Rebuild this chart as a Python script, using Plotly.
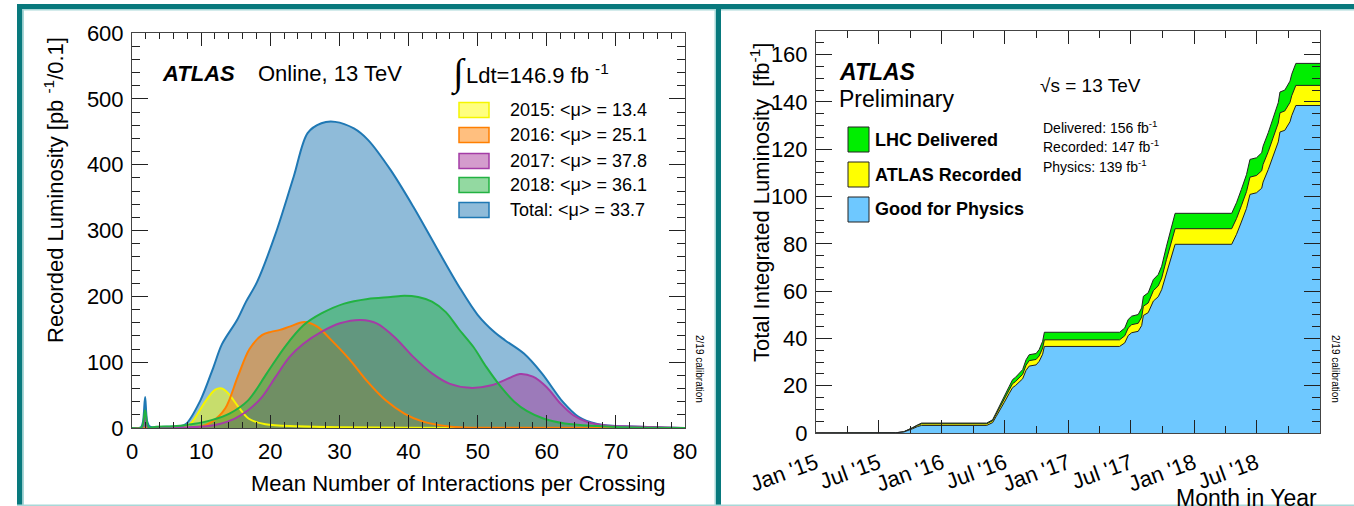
import plotly.graph_objects as go

W, H = 1354, 506
F = "Liberation Sans, Arial, sans-serif"


def px(x):
    return x / W


def py(y):
    return 1 - y / H


# ---------------- Left panel data: pile-up distributions ----------------
mu_total = [0, 1.3, 1.6, 1.9, 2.2, 2.6, 5, 7.0, 7.8, 9.9, 11.8, 13.0, 15.2, 16.5, 18.1, 20.8, 23.4, 25.4,
            27.4, 29.4, 32.1, 34.1, 37.4, 40.7, 44.0, 47.3, 50.0, 52.5, 54.0, 56.7, 59.3, 62.3, 64.6,
            67.3, 69.9, 75.2, 78, 80]
lumi_total = [0, 1, 10, 47, 10, 2, 2, 3, 6, 42, 93, 127, 164, 192, 222, 296, 382, 448,
              463, 465, 455, 438, 392, 336, 275, 215, 172, 145, 133, 113, 83, 40, 17,
              6, 3, 1.5, 0.3, 0]

mu_2015 = [0, 7.5, 8.6, 10.6, 12.0, 13.0, 13.9, 15.4, 16.9, 19.3, 24.1, 30, 40, 50, 80]
lumi_2015 = [0, 0.5, 8, 40, 58, 60, 53, 32, 14, 5.6, 2.5, 1, 0.5, 0, 0]

mu_2016 = [0, 8, 9.5, 11.5, 13.5, 15.3, 17.0, 18.8, 20.1, 21.4, 22.8, 24.9, 26.8, 28.7, 31.4, 34.1,
           36.7, 39.4, 42.0, 44.7, 47.3, 50, 80]
lumi_2016 = [0, 0, 1, 9, 30, 78, 120, 141, 146, 149, 154, 161, 154, 135, 105, 70,
             42, 22, 10, 4, 1.2, 0.3, 0]

mu_2017 = [0, 1.5, 1.9, 2.3, 4, 8, 10.8, 12.8, 14.8, 16.8, 18.8, 20.8, 22.8, 24.8, 27.4, 30.1, 33.1,
           35.4, 38.0, 40.7, 43.4, 46.0, 48.9, 52.0, 54.6, 56.1, 58.0, 60.0, 62.0, 63.9, 65.9, 68.6,
           71.2, 75.2, 80]
lumi_2017 = [0, 1, 21, 1, 1, 1, 2.5, 6.5, 14, 27, 47, 78, 108, 128, 146, 159, 164,
             159, 138, 108, 83, 67, 61, 65, 76, 82, 78, 62, 37, 19, 9, 4,
             2.5, 1.5, 0]

mu_2018 = [0, 1.4, 1.9, 2.4, 3.5, 6, 8.8, 11.5, 14.1, 16.8, 19.5, 22.1, 24.8, 27.4, 30.7, 34.1, 37.4,
           39.4, 41.4, 43.4, 45.4, 47.3, 49.4, 51.3, 53.4, 55.3, 57.1, 59.6, 62.6, 67.3, 70, 74, 80]
lumi_2018 = [0, 1, 27, 1, 2, 2.5, 6, 12, 22, 42, 83, 123, 156, 174, 189, 196, 199,
             201, 199, 192, 176, 150, 123, 92, 62, 40, 26, 14, 7, 3, 1.5, 0.5, 0]

legend_labels = ["2015: &lt;μ&gt; = 13.4", "2016: &lt;μ&gt; = 25.1", "2017: &lt;μ&gt; = 37.8",
                 "2018: &lt;μ&gt; = 36.1", "Total: &lt;μ&gt; = 33.7"]

# ---------------- Right panel data: cumulative luminosity ----------------
dates = ["2015-01-01", "2015-06-01", "2015-08-20", "2015-09-12", "2015-09-25", "2015-10-08",
         "2015-10-22", "2015-11-03",
         "2016-05-10", "2016-05-27", "2016-06-06", "2016-06-15", "2016-06-30", "2016-07-14",
         "2016-07-24", "2016-08-01", "2016-08-22", "2016-09-01", "2016-09-10", "2016-09-30",
         "2016-10-09", "2016-10-19", "2016-10-24",
         "2017-05-30", "2017-06-14", "2017-06-24", "2017-07-04", "2017-07-23", "2017-08-02",
         "2017-08-07", "2017-08-21", "2017-09-05", "2017-09-19", "2017-09-29", "2017-10-13",
         "2017-10-28", "2017-11-07",
         "2018-04-20", "2018-05-04", "2018-05-18", "2018-06-02", "2018-06-12", "2018-07-01",
         "2018-07-16", "2018-07-20", "2018-08-04", "2018-08-18", "2018-09-02", "2018-09-07",
         "2018-09-21", "2018-10-06", "2018-10-11", "2018-10-23", "2019-01-01"]
delivered = [0, 0, 0.1, 0.5, 1.3, 2.3, 3.4, 4.2,
             4.2, 5.6, 8.5, 11.3, 15.5, 19.7, 22.6, 23.5, 26.8, 31.0, 33.1, 33.6, 35.3, 38.8, 42.6,
             42.6, 44.4, 48.0, 49.4, 50.1, 52.9, 57.8, 59.3, 64.9, 67.0, 70.5, 79.0, 87.4, 92.9,
             92.9, 97.4, 103.0, 109.3, 115.7, 116.4, 118.5, 121.3, 127.0, 133.3, 139.7, 144.2,
             145.0, 148.8, 151.7, 156.3, 156.3]
recorded = [0, 0, 0.1, 0.5, 1.2, 2.1, 3.2, 3.9,
            3.9, 5.2, 7.9, 10.5, 14.3, 18.2, 20.9, 21.7, 24.8, 28.7, 30.6, 31.1, 32.6, 35.9, 39.4,
            39.4, 41.1, 44.4, 45.8, 46.4, 49.0, 53.6, 55.0, 60.2, 62.2, 65.5, 73.4, 81.2, 86.4,
            86.4, 90.7, 96.1, 102.1, 108.2, 108.9, 110.9, 113.6, 119.0, 125.0, 131.1, 135.4,
            136.2, 139.8, 142.6, 147.0, 147.0]
physics = [0, 0, 0.1, 0.4, 1.0, 1.8, 2.7, 3.2,
           3.2, 4.4, 6.9, 9.4, 13.0, 16.7, 19.2, 20.0, 22.9, 26.5, 28.3, 28.8, 30.3, 33.3, 36.6,
           36.6, 38.1, 41.2, 42.4, 43.0, 45.4, 49.7, 50.9, 55.8, 57.6, 60.6, 67.9, 75.1, 79.8,
           79.8, 84.0, 89.2, 95.0, 100.9, 101.6, 103.5, 106.1, 111.4, 117.2, 123.1, 127.3,
           128.0, 131.6, 134.2, 138.5, 138.5]

month_ticks = ["2015-01-01", "2015-07-01", "2016-01-01", "2016-07-01", "2017-01-01",
               "2017-07-01", "2018-01-01", "2018-07-01"]
month_labels = ["Jan '15", "Jul '15", "Jan '16", "Jul '16", "Jan '17", "Jul '17", "Jan '18", "Jul '18"]
quarter_ticks = ["2015-04-01", "2015-10-01", "2016-04-01", "2016-10-01", "2017-04-01",
                 "2017-10-01", "2018-04-01", "2018-10-01"]

right_labels = ["LHC Delivered", "ATLAS Recorded", "Good for Physics"]

# ---------------- styles ----------------
left_series = [
    (mu_total, lumi_total, "#1f78b4", "rgba(31,120,180,0.5)"),
    (mu_2015, lumi_2015, "#f5f500", "rgba(255,255,0,0.5)"),
    (mu_2016, lumi_2016, "#ff7f00", "rgba(255,127,0,0.5)"),
    (mu_2017, lumi_2017, "#a43ca6", "rgba(169,58,155,0.5)"),
    (mu_2018, lumi_2018, "#22b242", "rgba(39,180,68,0.5)"),
]
green, yellow, blue = "#00ee00", "#ffff00", "#6ec8ff"

fig = go.Figure()
# semi-transparent fills first, then outlines on top (as in the reference)
for xs, ys, lc, fc in left_series:
    fig.add_trace(go.Scatter(x=xs, y=ys, mode="lines", fill="tozeroy", fillcolor=fc,
                             line=dict(color=lc, width=0, shape="spline", smoothing=0.9),
                             xaxis="x", yaxis="y", showlegend=False, hoverinfo="skip"))
for xs, ys, lc, fc in left_series:
    fig.add_trace(go.Scatter(x=xs, y=ys, mode="lines",
                             line=dict(color=lc, width=2, shape="spline", smoothing=0.9),
                             xaxis="x", yaxis="y", showlegend=False, hoverinfo="skip"))

for ys, c in [(delivered, green), (recorded, yellow), (physics, blue)]:
    fig.add_trace(go.Scatter(x=dates, y=ys, mode="lines", fill="tozeroy", fillcolor=c,
                             line=dict(color="#222222", width=1),
                             xaxis="x2", yaxis="y2", showlegend=False, hoverinfo="skip"))


def axis(domain, anchor, rng, ticklen, minorlen, **kw):
    d = dict(domain=domain, anchor=anchor, range=rng, showline=True, linecolor="#444444",
             linewidth=1, mirror="allticks", ticks="inside", ticklen=ticklen, tickwidth=1,
             tickcolor="#222222", showgrid=False, zeroline=False, automargin=False,
             tickfont=dict(family=F, size=22, color="black"))
    d.update(kw)
    d.setdefault("minor", {})
    d["minor"].update(dict(ticks="inside", ticklen=minorlen, tickcolor="#222222", tickwidth=1,
                           showgrid=False))
    return d


fig.update_layout(
    width=W, height=H, margin=dict(l=0, r=0, t=0, b=0, pad=0, autoexpand=False),
    paper_bgcolor="white", plot_bgcolor="white",
    xaxis=axis([px(132), px(685)], "y", [0, 80], 13, 6, tickmode="linear", tick0=0, dtick=10,
               minor=dict(dtick=2), ticklabelstandoff=4),
    yaxis=axis([py(428), py(33)], "x", [0, 600], 16, 8, tickmode="linear", tick0=0, dtick=100,
               minor=dict(dtick=20), ticklabelstandoff=3),
    xaxis2=axis([px(816), px(1320)], "y2", ["2015-01-01", "2019-01-01"], 13, 7, type="date",
                tickmode="array", tickvals=month_ticks, ticktext=month_labels, tickangle=-20,
                minor=dict(tickmode="array", tickvals=quarter_ticks), ticklabelstandoff=8,
                tickfont=dict(family=F, size=22, color="black")),
    yaxis2=axis([py(433), py(31)], "x2", [0, 170], 16, 8, tickmode="linear", tick0=0, dtick=20,
                minor=dict(dtick=5), ticklabelstandoff=3),
)

ann = []


def text(x, y, s, size, anchor="left", family=F, **kw):
    d = dict(x=px(x), y=py(y), xref="paper", yref="paper", text=s, showarrow=False,
             xanchor=anchor, yanchor="middle", font=dict(family=family, size=size, color="black"))
    d.update(kw)
    ann.append(d)


# left panel texts
text(54, 190, "Recorded Luminosity [pb <sup>-1</sup>/0.1]", 22, anchor="center", textangle=-90)
text(668, 483, "Mean Number of Interactions per Crossing", 22, anchor="right")
text(160, 73, "<b><i>ATLAS</i></b>", 22)
text(256, 73, "Online, 13 TeV", 22)
text(449, 73, "∫", 38, family="Liberation Serif, DejaVu Serif, serif")
text(464, 74, "Ldt=146.9 fb <sup>-1</sup>", 22)
row_y = [110, 135, 161, 185, 210]
legend_styles = [left_series[1], left_series[2], left_series[3], left_series[4], left_series[0]]
shapes = []
for yy, lab, st in zip(row_y, legend_labels, legend_styles):
    shapes.append(dict(type="rect", xref="paper", yref="paper", x0=px(459), x1=px(489),
                       y0=py(yy + 7.5), y1=py(yy - 7.5), fillcolor=st[3],
                       line=dict(color=st[2], width=1.5)))
    text(508, yy, lab, 18)
text(700, 369, "2/19 calibration", 10, anchor="center", textangle=90)

# right panel texts
text(760, 202, "Total Integrated Luminosity  [fb<sup>-1</sup>]", 22, anchor="center", textangle=-90)
text(1319, 498, "Month in Year", 23, anchor="right")
text(837, 72, "<b><i>ATLAS</i></b>", 23)
text(837, 99, "Preliminary", 23)
text(1038, 85, "√s = 13 TeV", 19)
text(1041, 127, "Delivered: 156 fb<sup>-1</sup>", 14)
text(1041, 146, "Recorded: 147 fb<sup>-1</sup>", 14)
text(1041, 166, "Physics: 139 fb<sup>-1</sup>", 14)
for (y0, y1), lab, c in zip([(127, 152), (162, 187), (197, 222)], right_labels, [green, yellow, blue]):
    shapes.append(dict(type="rect", xref="paper", yref="paper", x0=px(848), x1=px(869),
                       y0=py(y1), y1=py(y0), fillcolor=c, line=dict(color="#222222", width=1)))
    text(873, (y0 + y1) / 2, "<b>" + lab + "</b>", 18)
text(1336, 369, "2/19 calibration", 10, anchor="center", textangle=90)

# frame borders (teal)
teal = "#08797d"
light = "#a8d8d8"
for x0, x1, y0, y1, c in [
    (17, 22.5, 4, 506, teal), (17, 1354, 4, 9, teal), (716, 721, 4, 506, teal),
    (22.5, 24, 9, 506, light), (22.5, 716, 9, 10.5, light), (721, 1354, 9, 10.5, light),
    (17, 1354, 504.5, 506, light), (714.5, 716, 9, 506, light),
]:
    shapes.append(dict(type="rect", xref="paper", yref="paper", x0=px(x0), x1=px(x1),
                       y0=py(y1), y1=py(y0), fillcolor=c, line=dict(width=0), layer="above"))

fig.update_layout(annotations=ann, shapes=shapes)
fig.write_html("out.html", config={"displayModeBar": False},
               post_script="document.body.style.margin='0px';document.body.style.padding='0px';"
                           "document.body.style.overflow='hidden';")
